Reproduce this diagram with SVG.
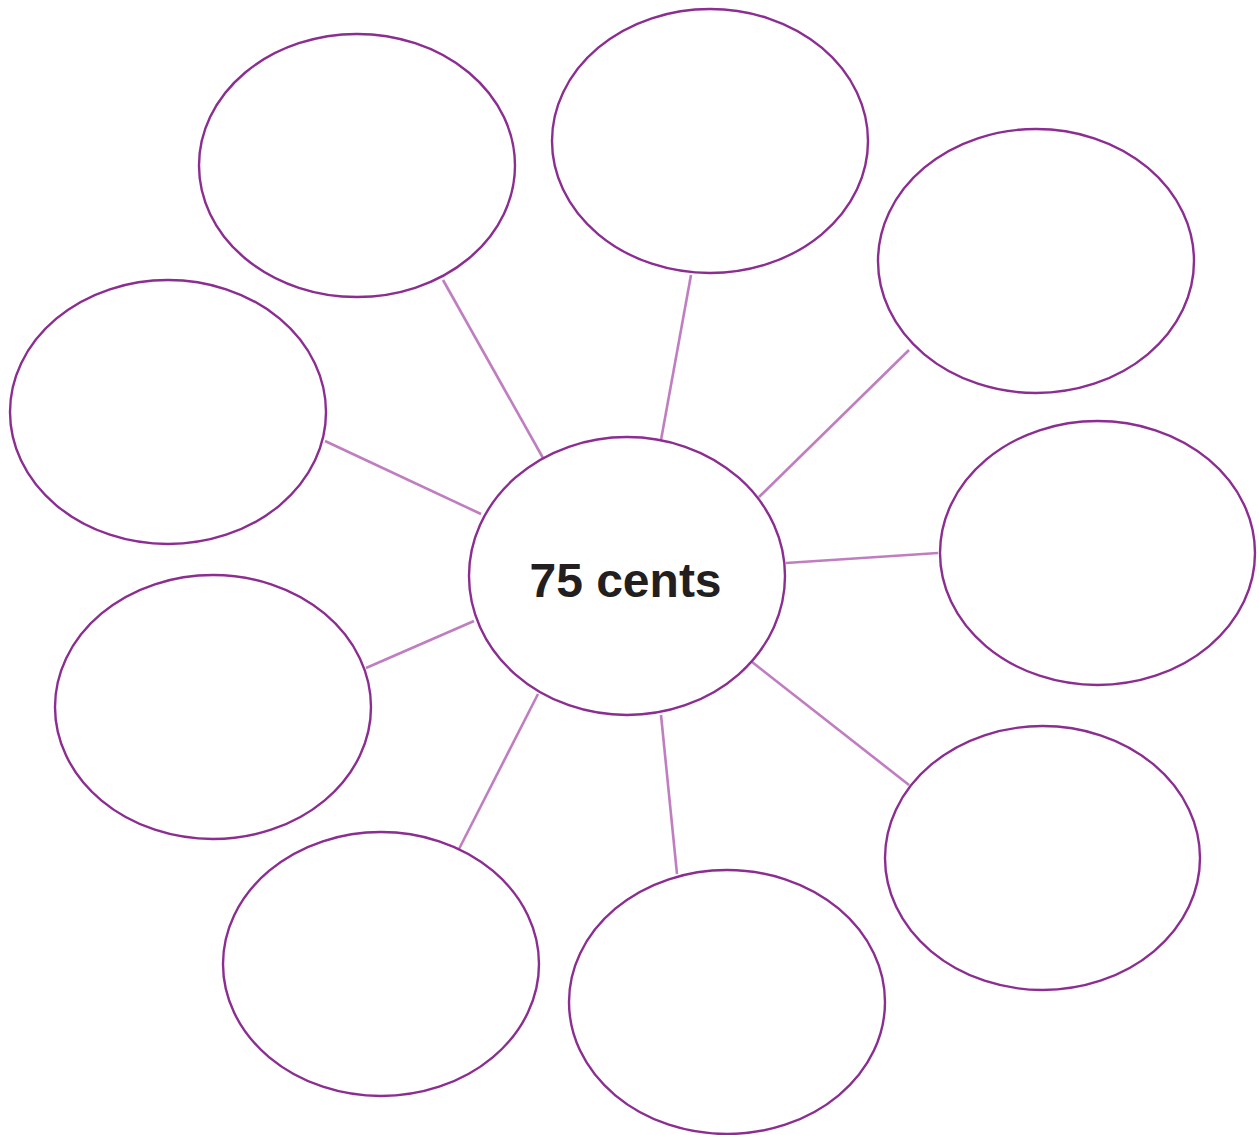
<svg xmlns="http://www.w3.org/2000/svg" width="1259" height="1135" viewBox="0 0 1259 1135">
<style>
.n{fill:#fff;stroke:#8B2D91;stroke-width:2.4}
.c{stroke:#C07EC0;stroke-width:2.6;fill:none}
.t{font-family:"Liberation Sans",Arial,sans-serif;font-weight:bold;font-size:48px;fill:#231F20;text-anchor:middle}
</style>
<rect width="1259" height="1135" fill="#fff"/>
<g id="connectors">
<line class="c" x1="443" y1="280" x2="543" y2="458"/>
<line class="c" x1="691" y1="275" x2="661" y2="440"/>
<line class="c" x1="909" y1="350" x2="759" y2="497"/>
<line class="c" x1="938" y1="553" x2="786" y2="563"/>
<line class="c" x1="752" y1="662" x2="909" y2="785"/>
<line class="c" x1="661" y1="715" x2="677" y2="874"/>
<line class="c" x1="538" y1="694" x2="459" y2="849"/>
<line class="c" x1="474" y1="621" x2="366" y2="668"/>
<line class="c" x1="325" y1="441" x2="481" y2="514"/>
</g>
<g id="center"><ellipse class="n" cx="627" cy="576" rx="158" ry="139"/><text class="t" x="625.5" y="597">75 cents</text></g>
<g id="n1"><ellipse class="n" cx="357" cy="165.5" rx="158" ry="131.5"/></g>
<g id="n2"><ellipse class="n" cx="710" cy="141" rx="158" ry="132"/></g>
<g id="n3"><ellipse class="n" cx="1036" cy="261" rx="158" ry="132"/></g>
<g id="n4"><ellipse class="n" cx="1097.5" cy="553" rx="157.5" ry="132"/></g>
<g id="n5"><ellipse class="n" cx="1042.5" cy="858" rx="157.5" ry="132"/></g>
<g id="n6"><ellipse class="n" cx="727" cy="1002" rx="158" ry="132"/></g>
<g id="n7"><ellipse class="n" cx="381" cy="964" rx="158" ry="132"/></g>
<g id="n8"><ellipse class="n" cx="213" cy="707" rx="158" ry="132"/></g>
<g id="n9"><ellipse class="n" cx="168" cy="412" rx="158" ry="132"/></g>
</svg>
